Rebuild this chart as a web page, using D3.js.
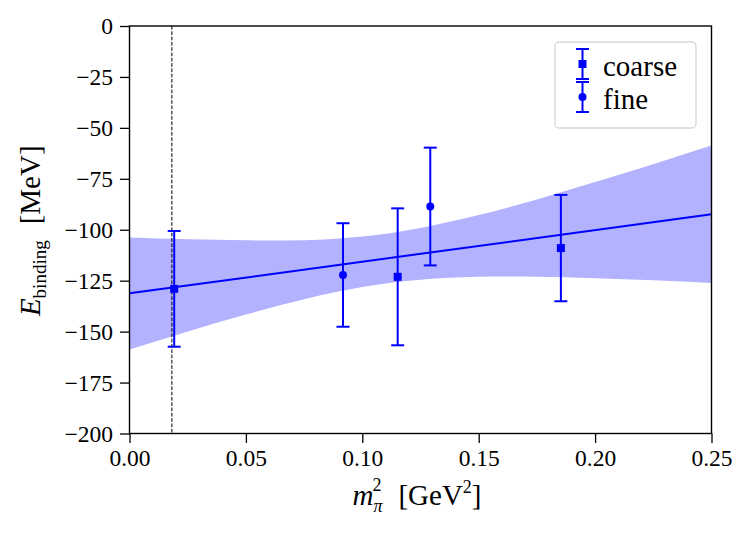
<!DOCTYPE html>
<html>
<head>
  <meta charset="utf-8">
  <title></title>
  <style>
    body { margin: 0; background: #fff; }
    svg text { font-family: "Liberation Serif", "DejaVu Serif", serif; }
  </style>
</head>
<body>
<svg width="748" height="533"></svg>
<script src="https://d3js.org/d3.v7.min.js"></script>
<script>

// coarse ensemble points
const coarseX = [0.0192, 0.1152, 0.1853];
const coarseY = [-129.0, -123.1, -109.0];
const coarseErr = [28.4, 33.6, 26.1];

// fine ensemble points
const fineX = [0.0917, 0.1292];
const fineY = [-122.2, -88.6];
const fineErr = [25.4, 28.9];

// linear fit and its error band
const fitX = [0, 0.25];
const fitY = [-131.2, -92.4];
const bandX = [0, 0.025, 0.05, 0.075, 0.10, 0.125, 0.15, 0.175, 0.20, 0.225, 0.25];
const bandUpper = [-103.8, -104.7, -105.2, -105.1, -103.3, -99.1, -92.8, -85.1, -76.6, -67.8, -58.7];
const bandLower = [-158.8, -149.9, -141.6, -134.1, -128.1, -124.5, -123.1, -123.1, -123.8, -124.8, -126.1];

// physical pion mass squared
const physX = 0.0182;

const xTicks = [0, 0.05, 0.10, 0.15, 0.20, 0.25];
const yTicks = [0, -25, -50, -75, -100, -125, -150, -175, -200];
const legendNames = ["coarse", "fine"];

var margin = {top: 26, left: 129.5},
    width = 582,
    height = 407.5;

var blue = "#0000ff";

var svg = d3.select("svg");
var g = svg.append("g")
    .attr("transform", `translate(${margin.left}, ${margin.top})`);

var x = d3.scaleLinear().domain([0, 0.25]).range([0, width]);
var y = d3.scaleLinear().domain([-200, 0]).range([height, 0]);

// band
var band = bandX.map((d, i) => ({x: d, lo: bandLower[i], hi: bandUpper[i]}));
g.append("path")
    .datum(band)
    .attr("fill", "#b2b2ff")
    .attr("d", d3.area()
        .curve(d3.curveNatural)
        .x(d => x(d.x))
        .y0(d => y(d.lo))
        .y1(d => y(d.hi)));

// fit line
g.append("path")
    .datum(fitX.map((d, i) => [d, fitY[i]]))
    .attr("fill", "none")
    .attr("stroke", blue)
    .attr("stroke-width", 2)
    .attr("d", d3.line().x(d => x(d[0])).y(d => y(d[1])));

// physical point
g.append("line")
    .attr("x1", x(physX)).attr("x2", x(physX))
    .attr("y1", 0).attr("y2", height)
    .attr("stroke", "#000")
    .attr("stroke-width", 1)
    .attr("stroke-dasharray", "3.7,1.6");

// error bars
function errorbars(xs, ys, errs, shape) {
    var pts = xs.map((d, i) => ({x: d, y: ys[i], e: errs[i]}));
    var eg = g.append("g").attr("stroke", blue).attr("stroke-width", 2).attr("fill", blue);
    pts.forEach(function(p) {
        var cx = x(p.x);
        eg.append("line").attr("x1", cx).attr("x2", cx)
            .attr("y1", y(p.y - p.e)).attr("y2", y(p.y + p.e));
        [p.y - p.e, p.y + p.e].forEach(function(v) {
            eg.append("line").attr("x1", cx - 6.5).attr("x2", cx + 6.5)
                .attr("y1", y(v)).attr("y2", y(v));
        });
        if (shape == "square") {
            eg.append("rect").attr("x", cx - 4).attr("y", y(p.y) - 4)
                .attr("width", 8).attr("height", 8).attr("stroke", "none");
        } else {
            eg.append("circle").attr("cx", cx).attr("cy", y(p.y))
                .attr("r", 4).attr("stroke", "none");
        }
    });
}
errorbars(coarseX, coarseY, coarseErr, "square");
errorbars(fineX, fineY, fineErr, "circle");

// axes
g.append("g")
    .attr("transform", `translate(0, ${height})`)
    .call(d3.axisBottom(x).tickValues(xTicks).tickFormat(d3.format(".2f")).tickSize(9.5).tickPadding(6));
g.append("g")
    .call(d3.axisLeft(y).tickValues(yTicks).tickSize(9.5).tickPadding(7));
g.selectAll(".tick line").attr("stroke-width", 1.3);
g.selectAll(".tick text").style("font-family", "Liberation Serif").attr("font-size", 23.5).attr("fill", "#000");
g.selectAll(".domain").remove();

// frame
g.append("rect")
    .attr("width", width).attr("height", height)
    .attr("fill", "none").attr("stroke", "#000").attr("stroke-width", 1.4);

// x label
var xl = svg.append("text")
    .attr("x", 417)
    .attr("y", 505)
    .attr("text-anchor", "middle")
    .attr("font-size", 29);
xl.append("tspan").attr("font-style", "italic").text("m");
xl.append("tspan").attr("font-size", 18).attr("font-style", "italic").attr("dy", 7).text("π");
xl.append("tspan").attr("font-size", 18).attr("dy", -21).attr("dx", -10).text("2");
xl.append("tspan").attr("dy", 14).attr("dx", 17).text("[GeV");
xl.append("tspan").attr("font-size", 18).attr("dy", -12).text("2");
xl.append("tspan").attr("dy", 12).text("]");

// y label
var yl = svg.append("text")
    .attr("transform", `translate(40, ${margin.top + height / 2 + 1}) rotate(-90)`)
    .attr("text-anchor", "middle")
    .attr("font-size", 29);
yl.append("tspan").attr("font-style", "italic").text("E");
yl.append("tspan").attr("font-size", 19).attr("dy", 6).text("binding");
yl.append("tspan").attr("dy", -6).attr("dx", 16).text("[MeV]");

// legend
var lg = svg.append("g");
lg.append("rect")
    .attr("x", 555).attr("y", 42).attr("width", 141).attr("height", 86)
    .attr("rx", 4)
    .attr("fill", "#fff").attr("fill-opacity", 0.8)
    .attr("stroke", "#d6d6d6").attr("stroke-width", 1.3);

var legendY = [64, 97];
legendNames.forEach(function(name, i) {
    var cy = legendY[i], cx = 582.5;
    var e = lg.append("g").attr("stroke", blue).attr("stroke-width", 2).attr("fill", blue);
    e.append("line").attr("x1", cx).attr("x2", cx).attr("y1", cy - 15).attr("y2", cy + 15);
    [cy - 15, cy + 15].forEach(v => e.append("line").attr("x1", cx - 6.5).attr("x2", cx + 6.5).attr("y1", v).attr("y2", v));
    if (i == 0) {
        e.append("rect").attr("x", cx - 4).attr("y", cy - 4).attr("width", 8).attr("height", 8).attr("stroke", "none");
    } else {
        e.append("circle").attr("cx", cx).attr("cy", cy).attr("r", 4).attr("stroke", "none");
    }
    lg.append("text")
        .attr("x", 603).attr("y", cy + 11.5)
        .attr("font-size", 29)
        .text(name);
});

</script>
</body>
</html>
